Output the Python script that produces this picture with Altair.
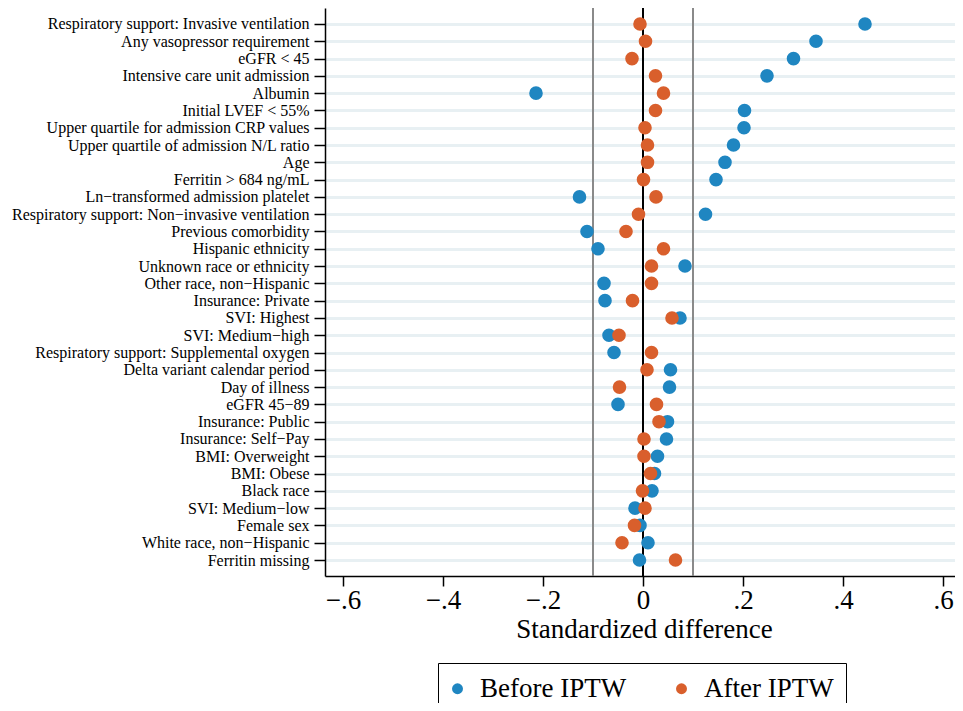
import altair as alt
import pandas as pd

labels = [
    "Respiratory support: Invasive ventilation",
    "Any vasopressor requirement",
    "eGFR < 45",
    "Intensive care unit admission",
    "Albumin",
    "Initial LVEF < 55%",
    "Upper quartile for admission CRP values",
    "Upper quartile of admission N/L ratio",
    "Age",
    "Ferritin > 684 ng/mL",
    "Ln\u2212transformed admission platelet",
    "Respiratory support: Non\u2212invasive ventilation",
    "Previous comorbidity",
    "Hispanic ethnicity",
    "Unknown race or ethnicity",
    "Other race, non\u2212Hispanic",
    "Insurance: Private",
    "SVI: Highest",
    "SVI: Medium\u2212high",
    "Respiratory support: Supplemental oxygen",
    "Delta variant calendar period",
    "Day of illness",
    "eGFR 45\u221289",
    "Insurance: Public",
    "Insurance: Self\u2212Pay",
    "BMI: Overweight",
    "BMI: Obese",
    "Black race",
    "SVI: Medium\u2212low",
    "Female sex",
    "White race, non\u2212Hispanic",
    "Ferritin missing",
]

before = [0.444, 0.346, 0.301, 0.248, -0.214, 0.203, 0.202, 0.181, 0.164, 0.146,
          -0.127, 0.125, -0.112, -0.090, 0.084, -0.078, -0.076, 0.074, -0.068, -0.058,
          0.055, 0.053, -0.050, 0.049, 0.047, 0.029, 0.023, 0.018, -0.016, -0.006,
          0.010, -0.007]

after = [-0.006, 0.005, -0.022, 0.025, 0.041, 0.025, 0.004, 0.009, 0.009, 0.001,
         0.026, -0.009, -0.034, 0.041, 0.017, 0.017, -0.021, 0.058, -0.048, 0.017,
         0.008, -0.047, 0.027, 0.032, 0.002, 0.002, 0.015, -0.001, 0.004, -0.017,
         -0.042, 0.065]

series = ["Before IPTW", "After IPTW"]
colors = ["#1f86c1", "#d95f2c"]
ref_lines = [-0.1, 0.1]
zero_line = [0.0]
x_ticks = [-0.6, -0.4, -0.2, 0.0, 0.2, 0.4, 0.6]

rows = []
for lab, v in zip(labels, before):
    rows.append({"var": lab, "diff": v, "series": series[0]})
for lab, v in zip(labels, after):
    rows.append({"var": lab, "diff": v, "series": series[1]})
df = pd.DataFrame(rows)

FONT = "Liberation Serif"

x_scale = alt.Scale(domain=[-0.636, 0.624], nice=False, zero=False)
x_axis = alt.Axis(
    values=x_ticks,
    labelExpr="datum.value == 0 ? '0' : replace(format(datum.value, '.1f'), '0.', '.')",
    labelFont=FONT, labelFontSize=27, labelColor="black", labelPadding=1,
    tickSize=10, tickWidth=1.5, tickColor="black",
    domainColor="black", domainWidth=1.5,
    grid=False,
    title="Standardized difference", titleFont=FONT, titleFontSize=27,
    titleFontWeight="normal", titleColor="black", titlePadding=3,
    titleX=319, titleAlign="center",
)

y_axis = alt.Axis(
    title=None, labelFont=FONT, labelFontSize=16, labelColor="black",
    labelPadding=5, labelLimit=400,
    tickSize=11, tickWidth=1.5, tickColor="black",
    domainColor="black", domainWidth=1.5,
    grid=True, gridColor="#e8f0f3", gridWidth=3,
)

gray_rules = alt.Chart(pd.DataFrame({"diff": ref_lines})).mark_rule(
    color="#8a8a8a", strokeWidth=2
).encode(x=alt.X("diff:Q", scale=x_scale, axis=x_axis))

zero_rule = alt.Chart(pd.DataFrame({"diff": zero_line})).mark_rule(
    color="black", strokeWidth=2
).encode(x=alt.X("diff:Q", scale=x_scale, axis=x_axis))

points = alt.Chart(df).mark_circle(size=185, opacity=1).encode(
    x=alt.X("diff:Q", scale=x_scale, axis=x_axis),
    y=alt.Y("var:N", sort=labels, scale=alt.Scale(type="point", padding=0.925), axis=y_axis),
    color=alt.Color(
        "series:N",
        scale=alt.Scale(domain=series, range=colors),
        legend=alt.Legend(
            title=None, orient="none", legendX=113, legendY=655,
            direction="horizontal", symbolType="circle", symbolSize=120,
            symbolStrokeWidth=0, symbolOffset=-6, labelFont=FONT, labelFontSize=27,
            labelColor="black", labelLimit=300, labelOffset=9,
            columnPadding=47, padding=12, strokeColor="black",
        ),
    ),
)

chart = alt.layer(gray_rules, zero_rule, points).properties(
    width=630,
    height=568,
    autosize=alt.AutoSizeParams(type="none"),
    padding={"left": 317, "top": 0, "right": 0, "bottom": 127},
    background="white",
).configure(
    font=FONT
).configure_axis(
    labelFont=FONT, titleFont=FONT
).configure_legend(
    labelFont=FONT
).configure_view(strokeWidth=0)

chart.save("out.html", embed_options={"renderer": "svg", "actions": False})
